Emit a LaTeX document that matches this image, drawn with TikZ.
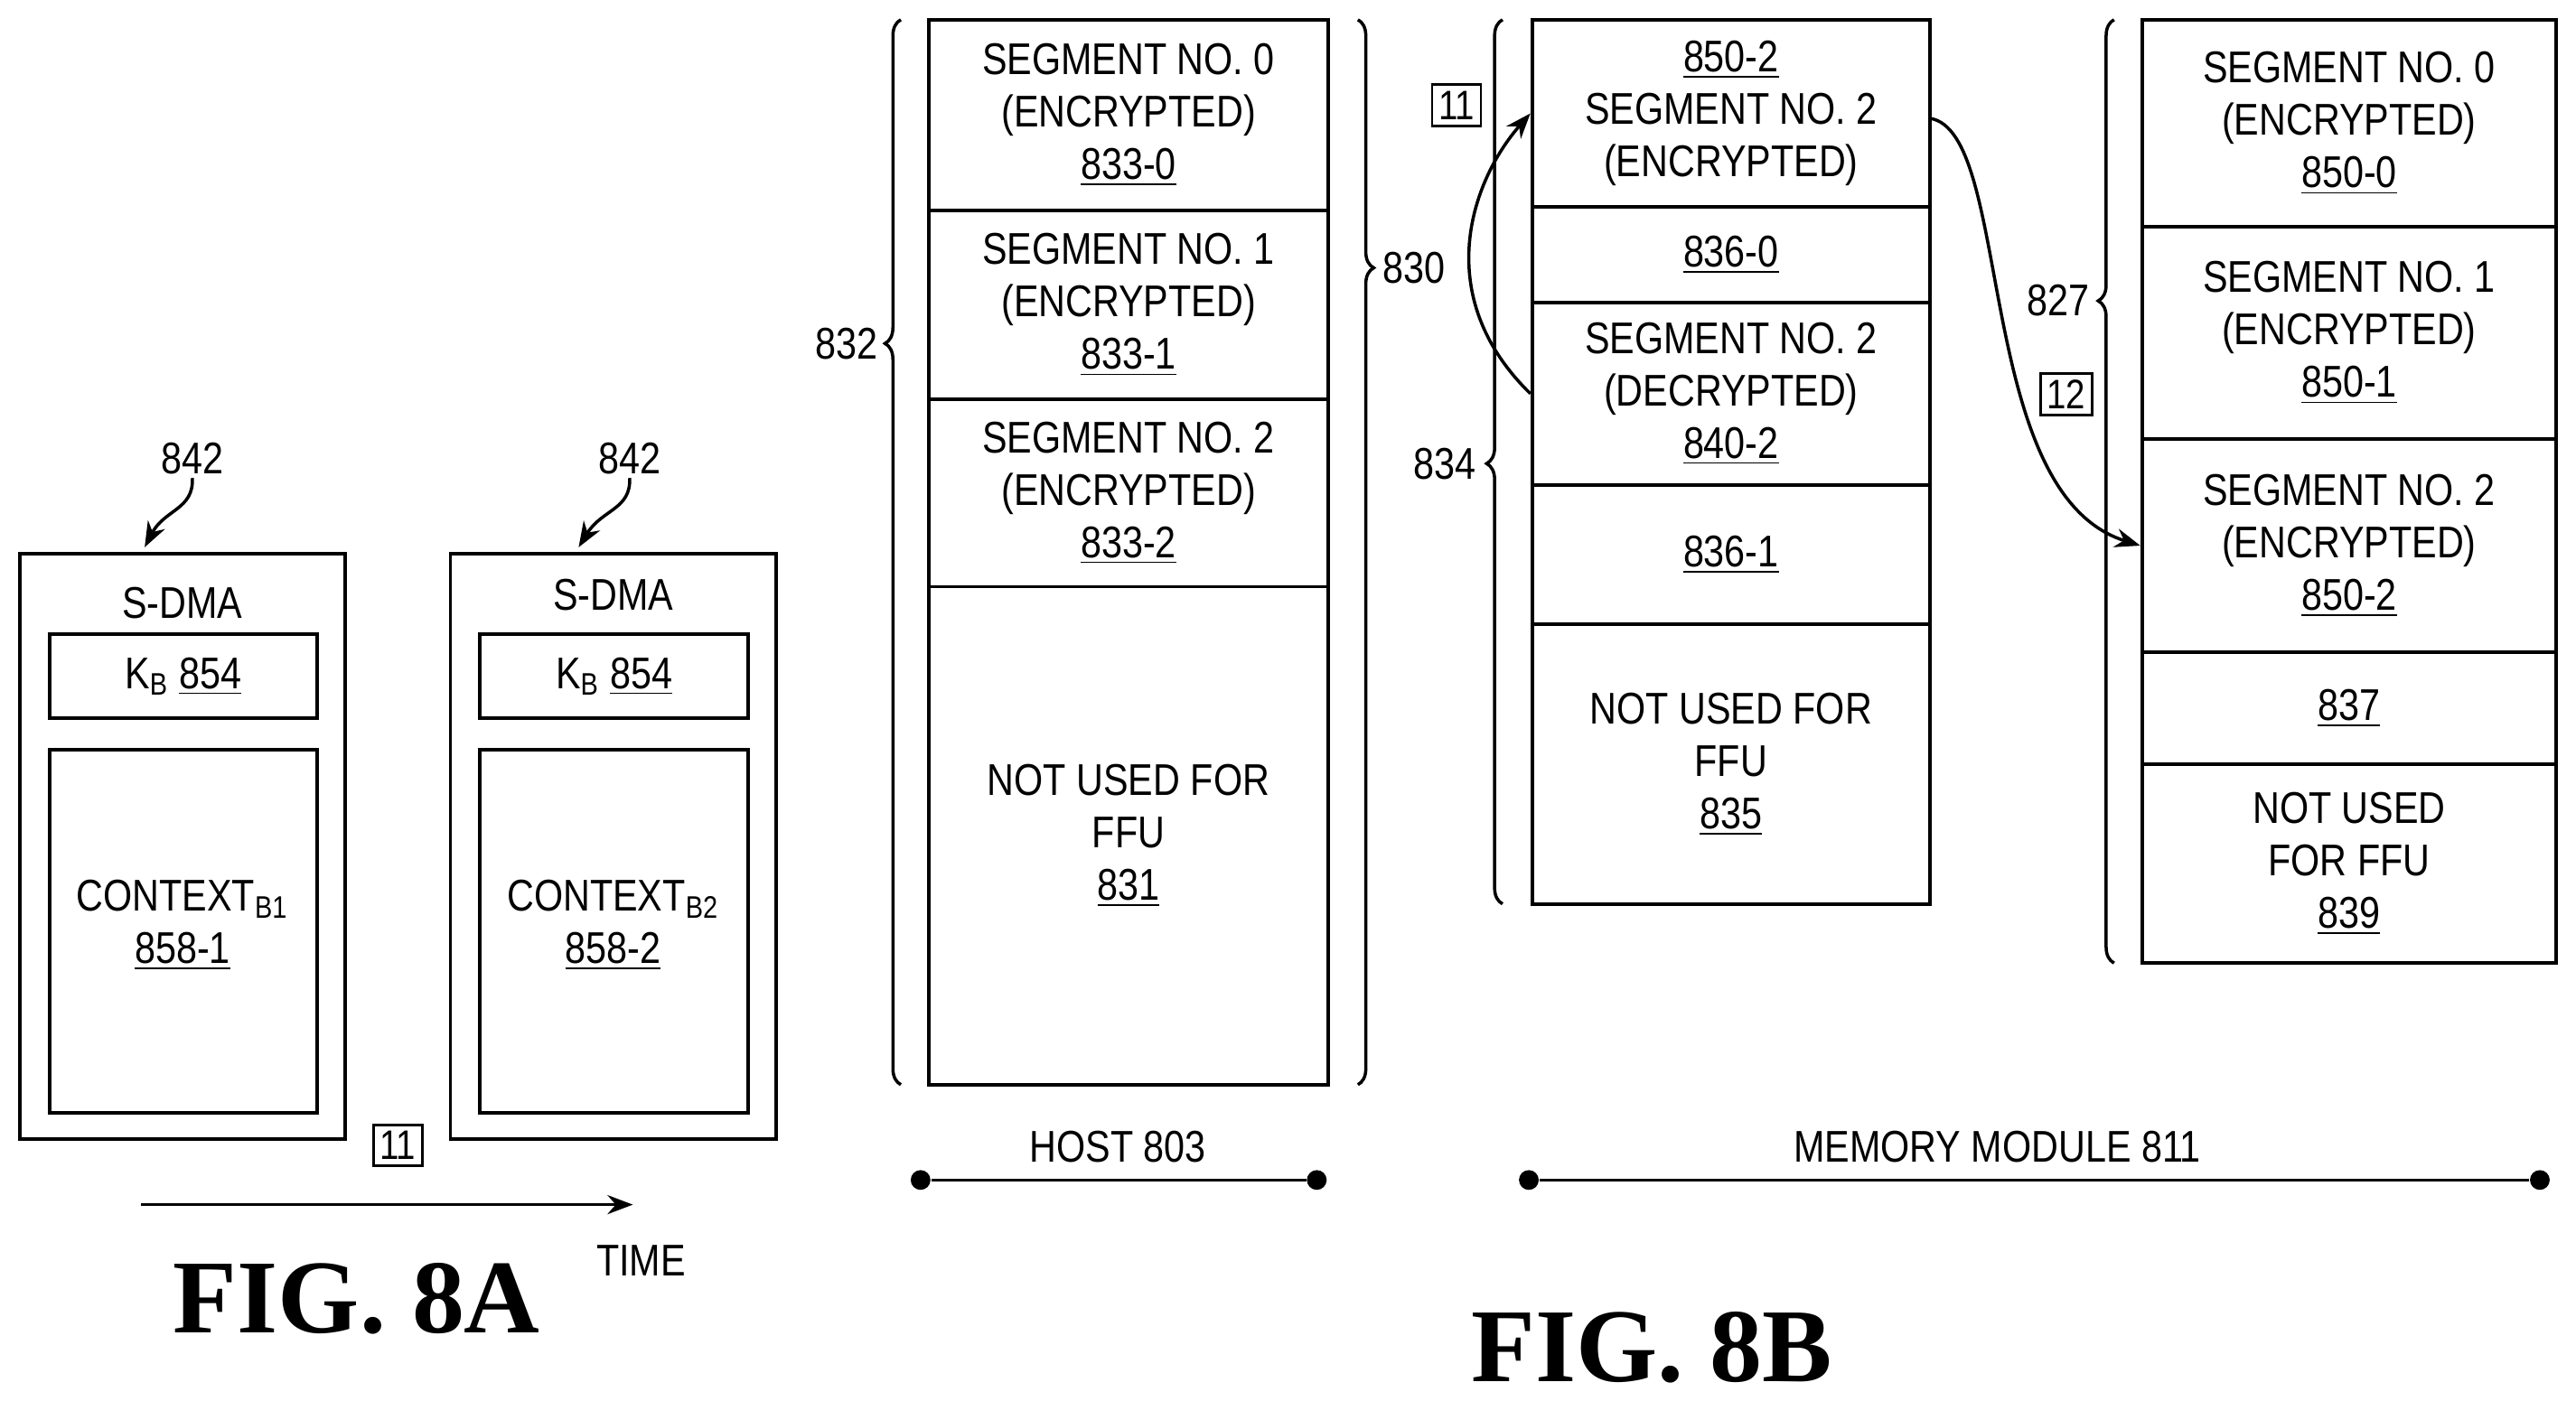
\documentclass[tikz,border=0pt]{standalone}
\usepackage{fontspec}
\setmainfont[FakeStretch=0.84]{Liberation Sans}
\newfontfamily\figfont{Liberation Serif}
\usetikzlibrary{positioning,fit,arrows.meta,decorations.pathreplacing}

\begin{document}
\begin{tikzpicture}[
    x=0.0182cm, y=-0.0182cm,
    cell/.style={rectangle, draw=black, line width=1.1pt, inner sep=0pt},
    lbl/.style={align=center, inner sep=1pt, font=\fontsize{14}{16.5}\selectfont},
    brc/.style={decorate, decoration={brace, amplitude=5pt, aspect=#1}, line width=1pt},
    arrow/.style={-{Stealth[length=8pt]}, line width=1pt},
    dot/.style={circle, fill=black, inner sep=2.2pt},
    tag/.style={rectangle, draw=black, line width=0.8pt, inner sep=2pt, font=\fontsize{13}{15}\selectfont},
    fig/.style={font=\figfont\bfseries\fontsize{33}{36}\selectfont}
]
\useasboundingbox (0,0) rectangle (1567,852);

% FIG. 8A
\node[cell, fit={(12,337)(210,693)}] (dma1) {};
\node[lbl] (dmat1) at (111,367) {S-DMA};
\node[cell, fit={(30,386)(193,437)}] (key1) {};
\node[lbl] at (key1) {K\textsubscript{B} \underline{854}};
\node[cell, fit={(30,456)(193,677)}] (ctx1) {};
\node[lbl] at (111,563) {CONTEXT\textsubscript{B1}\\\underline{858-1}};
\node[cell, fit={(274,337)(472,693)}] (dma2) {};
\node[lbl] (dmat2) at (373,362) {S-DMA};
\node[cell, fit={(292,386)(455,437)}] (key2) {};
\node[lbl] at (key2) {K\textsubscript{B} \underline{854}};
\node[cell, fit={(292,456)(455,677)}] (ctx2) {};
\node[lbl] at (373,563) {CONTEXT\textsubscript{B2}\\\underline{858-2}};
\node[lbl] (r842a) at (117,279) {842};
\node[lbl] (r842b) at (383,279) {842};
\draw[arrow] (r842a.south) .. controls (118,310) and (100,310) .. (88,333);
\draw[arrow] (r842b.south) .. controls (384,310) and (366,310) .. (352,333);
\node[tag] (t11a) at (242,697) {11};
\coordinate (ts) at (86,733);
\coordinate (te) at (385,733);
\draw[arrow] (ts) -- (te);
\node[lbl] (time) at (390,767) {TIME};
\node[fig] (fig8a) at (217,790) {FIG. 8A};

% host
\node[cell, fit={(565,12)(808,128)}] (h0) {};
\node[lbl] at (h0) {SEGMENT NO. 0\\(ENCRYPTED)\\\underline{833-0}};
\node[cell, fit={(565,128)(808,243)}] (h1) {};
\node[lbl] at (h1) {SEGMENT NO. 1\\(ENCRYPTED)\\\underline{833-1}};
\node[cell, fit={(565,243)(808,357)}] (h2) {};
\node[lbl] at (h2) {SEGMENT NO. 2\\(ENCRYPTED)\\\underline{833-2}};
\node[cell, fit={(565,357)(808,660)}] (h3) {};
\node[lbl] at (h3) {NOT USED FOR\\FFU\\\underline{831}};
\draw[brc=0.696] (548,660) -- (548,12);
\draw[brc=0.233] (826,12) -- (826,660);
\node[lbl] (r832) at (515,209) {832};
\node[lbl] (r830) at (860,163) {830};
\node[lbl] (host) at (680,698) {HOST 803};
\node[dot] (hl) at (560,718) {};
\node[dot] (hr) at (801,718) {};
\draw[line width=1pt] (hl) -- (hr);

% memory module
\node[cell, fit={(932,12)(1174,126)}] (m0) {};
\node[lbl] at (m0) {\underline{850-2}\\SEGMENT NO. 2\\(ENCRYPTED)};
\node[cell, fit={(932,126)(1174,184)}] (m1) {};
\node[lbl] at (m1) {\underline{836-0}};
\node[cell, fit={(932,184)(1174,295)}] (m2) {};
\node[lbl] at (m2) {SEGMENT NO. 2\\(DECRYPTED)\\\underline{840-2}};
\node[cell, fit={(932,295)(1174,380)}] (m3) {};
\node[lbl] at (m3) {\underline{836-1}};
\node[cell, fit={(932,380)(1174,550)}] (m4) {};
\node[lbl] at (m4) {NOT USED FOR\\FFU\\\underline{835}};
\draw[brc=0.498] (914,550) -- (914,12);
\node[lbl] (r834) at (879,282) {834};
\node[tag] (t11b) at (886,64) {11};
\draw[arrow] (m2.west) .. controls (870,180) and (895,110) .. (m0.west);

\node[cell, fit={(1303,12)(1555,138)}] (d0) {};
\node[lbl] at (d0) {SEGMENT NO. 0\\(ENCRYPTED)\\\underline{850-0}};
\node[cell, fit={(1303,138)(1555,267)}] (d1) {};
\node[lbl] at (d1) {SEGMENT NO. 1\\(ENCRYPTED)\\\underline{850-1}};
\node[cell, fit={(1303,267)(1555,397)}] (d2) {};
\node[lbl] at (d2) {SEGMENT NO. 2\\(ENCRYPTED)\\\underline{850-2}};
\node[cell, fit={(1303,397)(1555,465)}] (d3) {};
\node[lbl] at (d3) {\underline{837}};
\node[cell, fit={(1303,465)(1555,586)}] (d4) {};
\node[lbl] at (d4) {NOT USED\\FOR FFU\\\underline{839}};
\draw[brc=0.702] (1286,586) -- (1286,12);
\node[lbl] (r827) at (1252,183) {827};
\node[tag] (t12) at (1257,240) {12};
\draw[arrow] (1174,72) .. controls (1225,80) and (1200,300) .. (d2.west);

\node[lbl] (mm) at (1215,698) {MEMORY MODULE 811};
\node[dot] (ml) at (930,718) {};
\node[dot] (mr) at (1545,718) {};
\draw[line width=1pt] (ml) -- (mr);
\node[fig] (fig8b) at (1005,820) {FIG. 8B};
\end{tikzpicture}
\end{document}
